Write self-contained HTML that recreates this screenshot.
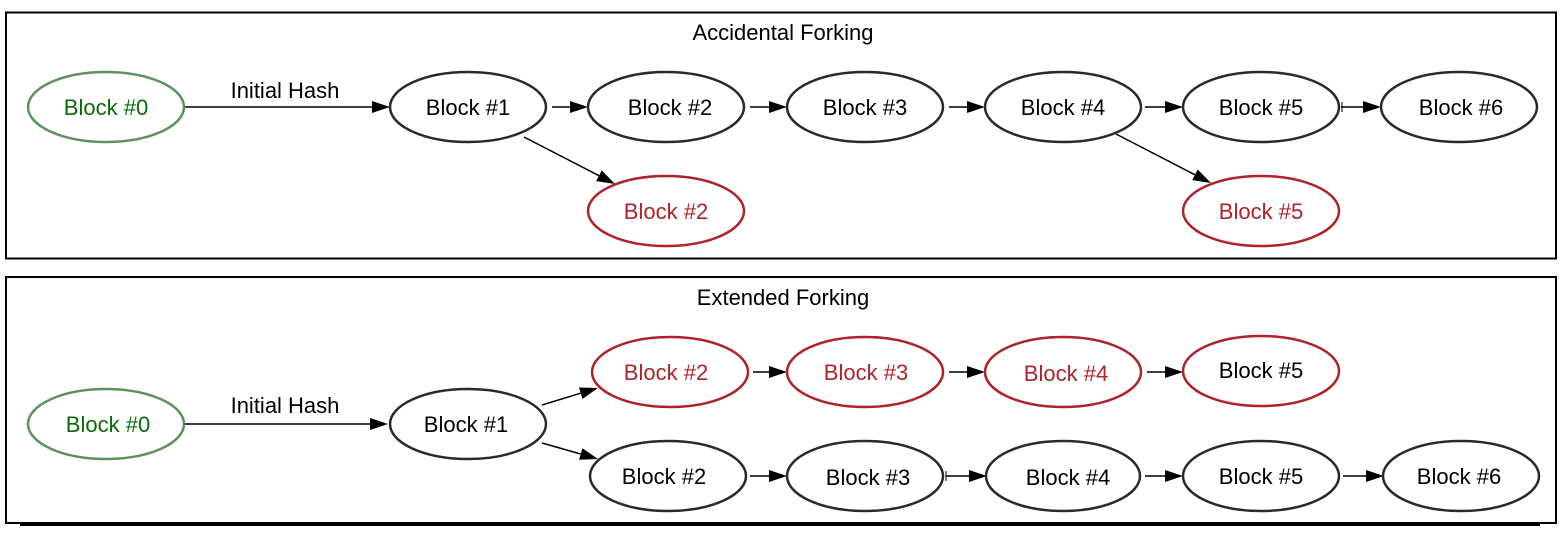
<!DOCTYPE html>
<html>
<head>
<meta charset="utf-8">
<style>
  html, body { margin: 0; padding: 0; background: #ffffff; }
  svg { display: block; }
  text { font-family: "Liberation Sans", Arial, sans-serif; font-size: 22px; }
</style>
</head>
<body>
<svg width="1564" height="536" viewBox="0 0 1564 536" xmlns="http://www.w3.org/2000/svg">
  <rect x="0" y="0" width="1564" height="536" fill="#ffffff"/>

  <!-- ===== Top panel: Accidental Forking ===== -->
  <rect x="6" y="12.5" width="1550" height="246" fill="none" stroke="#000" stroke-width="2"/>
  <text x="783" y="40" text-anchor="middle" fill="#000">Accidental Forking</text>

  <!-- edges top -->
  <g stroke="#000" stroke-width="1.5" fill="none">
    <line x1="184" y1="107" x2="372" y2="107"/>
    <line x1="552" y1="107" x2="570" y2="107"/>
    <line x1="750" y1="107" x2="769" y2="107"/>
    <line x1="949" y1="107" x2="967" y2="107"/>
    <line x1="1145" y1="107" x2="1165" y2="107"/>
    <line x1="1341" y1="107" x2="1363" y2="107"/>
    <line x1="524" y1="137" x2="599" y2="175.7"/>
    <line x1="1116" y1="134" x2="1195" y2="174.8"/>
  </g>
  <line x1="1342" y1="102" x2="1342" y2="112" stroke="#000" stroke-width="1"/>
  <g fill="#000">
    <polygon points="390,107 372,101 372,113"/>
    <polygon points="588,107 570,101 570,113"/>
    <polygon points="787,107 769,101 769,113"/>
    <polygon points="985,107 967,101 967,113"/>
    <polygon points="1183,107 1165,101 1165,113"/>
    <polygon points="1381,107 1363,101 1363,113"/>
    <polygon points="615,184 596.2,181.1 601.8,170.4"/>
    <polygon points="1211,183 1192.2,180.1 1197.7,169.5"/>
  </g>
  <text x="285" y="98" text-anchor="middle" fill="#000" font-size="20">Initial Hash</text>

  <!-- nodes top -->
  <g stroke-width="2.5" fill="#fff">
    <ellipse cx="106" cy="107" rx="78" ry="35" stroke="#5e915e"/>
    <ellipse cx="468" cy="107" rx="78" ry="35" stroke="#2a2a2a"/>
    <ellipse cx="666" cy="107" rx="78" ry="35" stroke="#2a2a2a"/>
    <ellipse cx="865" cy="107" rx="78" ry="35" stroke="#2a2a2a"/>
    <ellipse cx="1063" cy="107" rx="78" ry="35" stroke="#2a2a2a"/>
    <ellipse cx="1261" cy="107" rx="78" ry="35" stroke="#2a2a2a"/>
    <ellipse cx="1459" cy="107" rx="78" ry="35" stroke="#2a2a2a"/>
    <ellipse cx="666" cy="211" rx="78" ry="35" stroke="#b0222a"/>
    <ellipse cx="1261" cy="211" rx="78" ry="35" stroke="#b0222a"/>
  </g>
  <g text-anchor="middle">
    <text x="106" y="115" fill="#0a6a0a" font-size="21">Block #0</text>
    <text x="468" y="115" fill="#000">Block #1</text>
    <text x="670" y="115" fill="#000">Block #2</text>
    <text x="865" y="115" fill="#000">Block #3</text>
    <text x="1063" y="115" fill="#000">Block #4</text>
    <text x="1261" y="115" fill="#000">Block #5</text>
    <text x="1461" y="115" fill="#000">Block #6</text>
    <text x="666" y="219" fill="#b0222a">Block #2</text>
    <text x="1261" y="219" fill="#b0222a">Block #5</text>
  </g>

  <!-- ===== Bottom panel: Extended Forking ===== -->
  <rect x="6" y="277" width="1550" height="246" fill="none" stroke="#000" stroke-width="2"/>
  <line x1="20" y1="524.5" x2="1540" y2="524.5" stroke="#000" stroke-width="3"/>
  <text x="783" y="305" text-anchor="middle" fill="#000">Extended Forking</text>

  <!-- edges bottom -->
  <g stroke="#000" stroke-width="1.5" fill="none">
    <line x1="184" y1="424" x2="370" y2="424"/>
    <line x1="542" y1="405" x2="580.8" y2="393.2"/>
    <line x1="542" y1="443" x2="580.7" y2="454"/>
    <line x1="753" y1="372" x2="769" y2="372"/>
    <line x1="949" y1="372" x2="967" y2="372"/>
    <line x1="1147" y1="372" x2="1165" y2="372"/>
    <line x1="750" y1="476" x2="769" y2="476"/>
    <line x1="946" y1="476" x2="969" y2="476"/>
    <line x1="1145" y1="476" x2="1165" y2="476"/>
    <line x1="1343" y1="476" x2="1366" y2="476"/>
  </g>
  <line x1="946" y1="471" x2="946" y2="481" stroke="#000" stroke-width="1"/>
  <g fill="#000">
    <polygon points="388,424 370,418 370,430"/>
    <polygon points="598,388 582.5,398.9 579.0,387.5"/>
    <polygon points="598,459 579.1,459.8 582.4,448.2"/>
    <polygon points="787,372 769,366 769,378"/>
    <polygon points="985,372 967,366 967,378"/>
    <polygon points="1183,372 1165,366 1165,378"/>
    <polygon points="787,476 769,470 769,482"/>
    <polygon points="987,476 969,470 969,482"/>
    <polygon points="1183,476 1165,470 1165,482"/>
    <polygon points="1384,476 1366,470 1366,482"/>
  </g>
  <text x="285" y="413" text-anchor="middle" fill="#000" font-size="20">Initial Hash</text>

  <!-- nodes bottom -->
  <g stroke-width="2.5" fill="#fff">
    <ellipse cx="106" cy="424" rx="78" ry="35" stroke="#5e915e"/>
    <ellipse cx="468" cy="424" rx="78" ry="35" stroke="#2a2a2a"/>
    <ellipse cx="670" cy="372" rx="78" ry="35" stroke="#b0222a"/>
    <ellipse cx="865" cy="372" rx="78" ry="35" stroke="#b0222a"/>
    <ellipse cx="1063" cy="372" rx="78" ry="35" stroke="#b0222a"/>
    <ellipse cx="1261" cy="371" rx="78" ry="35" stroke="#b0222a"/>
    <ellipse cx="668" cy="476" rx="78" ry="35" stroke="#2a2a2a"/>
    <ellipse cx="865" cy="476" rx="78" ry="35" stroke="#2a2a2a"/>
    <ellipse cx="1063" cy="476" rx="77" ry="35" stroke="#2a2a2a"/>
    <ellipse cx="1261" cy="476" rx="78" ry="35" stroke="#2a2a2a"/>
    <ellipse cx="1461" cy="476" rx="78" ry="35" stroke="#2a2a2a"/>
  </g>
  <g text-anchor="middle">
    <text x="108" y="432" fill="#0a6a0a" font-size="21">Block #0</text>
    <text x="466" y="432" fill="#000">Block #1</text>
    <text x="666" y="380" fill="#b0222a">Block #2</text>
    <text x="866" y="380" fill="#b0222a">Block #3</text>
    <text x="1066" y="381" fill="#b0222a">Block #4</text>
    <text x="1261" y="378" fill="#000">Block #5</text>
    <text x="664" y="484" fill="#000">Block #2</text>
    <text x="868" y="485" fill="#000">Block #3</text>
    <text x="1068" y="485" fill="#000">Block #4</text>
    <text x="1261" y="484" fill="#000">Block #5</text>
    <text x="1459" y="484" fill="#000">Block #6</text>
  </g>
</svg>
</body>
</html>
